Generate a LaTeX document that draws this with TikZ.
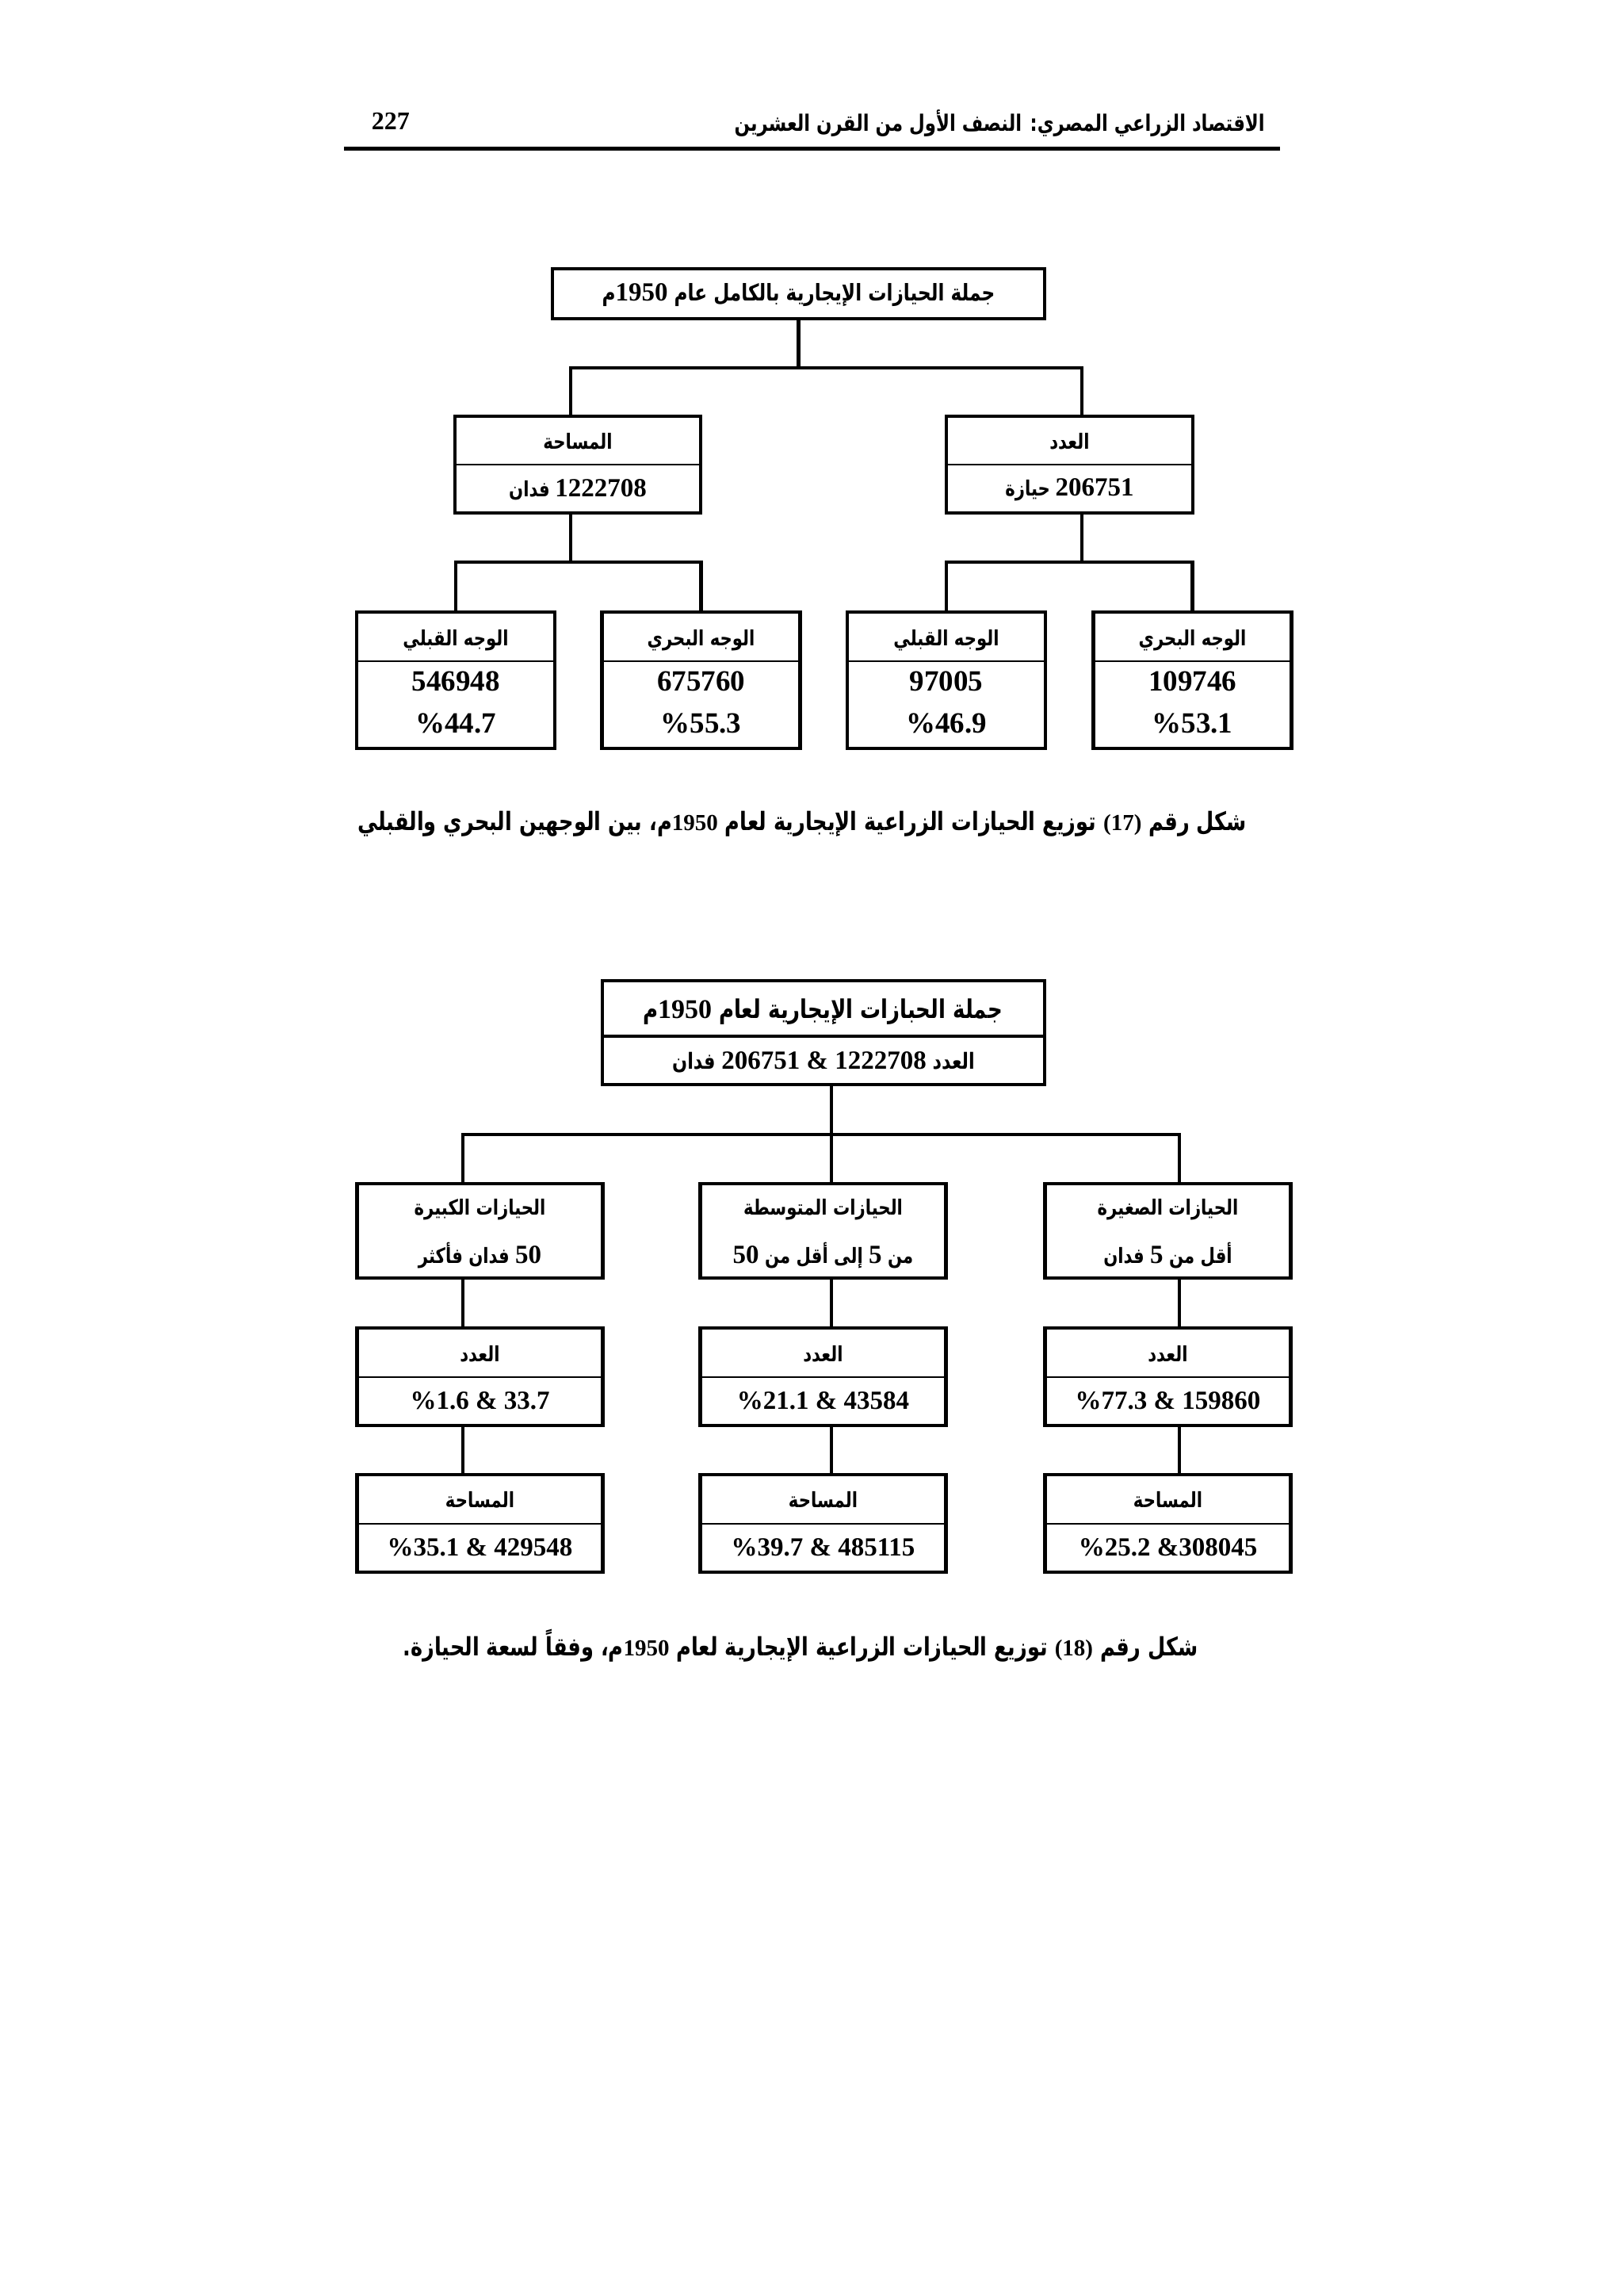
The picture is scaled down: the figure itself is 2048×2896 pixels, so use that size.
\documentclass[tikz,border=0pt]{standalone}
\usepackage{fontspec}
\setmainfont{Liberation Serif}
\newfontfamily\arfont[Script=Arabic,FakeStretch=0.8]{DejaVu Sans}
\TeXXeTstate=1
\newcommand\rl[1]{\beginR#1\endR}
\newcommand\lr[1]{\beginL#1\endL}
\newcommand\arw[1]{{\arfont\bfseries #1}}
\newcommand\numw[1]{{\rmfamily\bfseries #1}}
\newcommand\dg[2]{{\rmfamily\bfseries\fontsize{#1}{#1}\selectfont #2}}
\begin{document}
\begin{tikzpicture}[x=1pt,y=-1pt,
  box/.style={draw, line width=4.2pt, inner sep=0pt, rectangle},
  conn/.style={line width=4.2pt},
  divl/.style={line width=1.4pt},
  lab/.style={inner sep=0pt, font=\fontsize{26.5}{30}\selectfont},
  toplab/.style={inner sep=0pt, font=\fontsize{29}{33}\selectfont},
  bignum/.style={inner sep=0pt, font=\fontsize{37}{40}\selectfont\bfseries},
  midnum/.style={inner sep=0pt, font=\fontsize{33}{38}\selectfont\bfseries},
  captxt/.style={inner sep=0pt, font=\fontsize{32}{36}\selectfont},
  hdtext/.style={inner sep=0pt, font=\fontsize{28.5}{33}\selectfont},
]
\useasboundingbox (0,0) rectangle (2048,2896);
\fill[white] (0,0) rectangle (2048,2896);

% ---------- header ----------
\node[hdtext, anchor=east] (hdtxt) at (1596,156) {\rl{\arw{الاقتصاد الزراعي المصري: النصف الأول من القرن العشرين}}};
\node[inner sep=0pt, anchor=east, font=\fontsize{32}{36}\selectfont\bfseries] (pgnum) at (517,153) {227};
\draw[line width=5pt] (434,187) -- (1615,187);

% ---------- diagram 17 ----------
\node[box, minimum width=621pt, minimum height=63pt] (t1) at (1007.5,370.5) {};
\node[toplab] (t1txt) at (1007.5,372) {\rl{\arw{جملة الحيازات الإيجارية بالكامل عام }\lr{\dg{33}{1950}}\arw{م}}};

\node[box, minimum width=310pt, minimum height=122pt] (l2a) at (729,586) {};
\node[box, minimum width=311pt, minimum height=122pt] (l2b) at (1349.5,586) {};
\draw[divl] (l2a.west |- 0,586) -- (l2a.east |- 0,586);
\draw[divl] (l2b.west |- 0,586) -- (l2b.east |- 0,586);
\node[lab] (l2a1) at (729,557) {\rl{\arw{المساحة}}};
\node[lab] (l2a2) at (729,618) {\rl{\lr{\dg{33}{1222708}} \arw{فدان}}};
\node[lab] (l2b1) at (1349.5,557) {\rl{\arw{العدد}}};
\node[lab] (l2b2) at (1349.5,618) {\rl{\lr{\dg{33}{206751}} \arw{حيازة}}};

\coordinate (j1m) at (1007.5,464);
\coordinate (j1l) at (720,464);
\coordinate (j1r) at (1365,464);
\draw[conn] (t1.south -| j1m) -- (j1m);
\draw[conn] (l2a.north -| j1l) -- (j1l) -- (j1r) -- (l2b.north -| j1r);

\foreach \nm/\cx in {l3a/575, l3b/884.5, l3c/1194, l3d/1504.5}{
  \node[box, minimum width=250pt, minimum height=172pt] (\nm) at (\cx,858) {};
  \draw[divl] (\nm.west |- 0,834) -- (\nm.east |- 0,834);
}
\node[lab] (l3a1) at (575,808) {\rl{\arw{الوجه القبلي}}};
\node[bignum] (l3a2) at (575,859) {546948};
\node[bignum] (l3a3) at (575,912) {\%44.7};
\node[lab] (l3b1) at (884.5,808) {\rl{\arw{الوجه البحري}}};
\node[bignum] (l3b2) at (884.5,859) {675760};
\node[bignum] (l3b3) at (884.5,912) {\%55.3};
\node[lab] (l3c1) at (1194,808) {\rl{\arw{الوجه القبلي}}};
\node[bignum] (l3c2) at (1194,859) {97005};
\node[bignum] (l3c3) at (1194,912) {\%46.9};
\node[lab] (l3d1) at (1504.5,808) {\rl{\arw{الوجه البحري}}};
\node[bignum] (l3d2) at (1504.5,859) {109746};
\node[bignum] (l3d3) at (1504.5,912) {\%53.1};

\coordinate (j2l) at (720,709);
\coordinate (j2r) at (1365,709);
\draw[conn] (l2a.south -| j2l) -- (j2l);
\draw[conn] (l2b.south -| j2r) -- (j2r);
\draw[conn] (l3a.north) |- (j2l) -| (l3b.north);
\draw[conn] (l3c.north) |- (j2r) -| (l3d.north);

\node[captxt] (cap1) at (1012,1039) {\rl{\arw{شكل رقم }\lr{\dg{29}{(17)}}\arw{ توزيع الحيازات الزراعية الإيجارية لعام }\lr{\dg{29}{1950}}\arw{م، بين الوجهين البحري والقبلي}}};

% ---------- diagram 18 ----------
\node[box, minimum width=558pt, minimum height=131pt] (t2) at (1039,1302.5) {};
\draw[line width=4.2pt] (t2.west |- 0,1307) -- (t2.east |- 0,1307);
\node[lab, font=\fontsize{32.5}{36}\selectfont] (t2a) at (1038,1276) {\rl{\arw{جملة الحبازات الإيجارية لعام }\lr{\dg{34}{1950}}\arw{م}}};
\node[lab, font=\fontsize{28}{32}\selectfont] (t2b) at (1039,1340) {\rl{\arw{العدد }\lr{\dg{33}{206751 \& 1222708}}\arw{ فدان}}};

\foreach \nm/\cx in {m1/605.5, m2/1038.5, m3/1473.5}{
  \node[box, minimum width=310pt, minimum height=119pt] (\nm) at (\cx,1552.5) {};
  \node[box, minimum width=310pt, minimum height=123pt] (\nm n) at (\cx,1736.5) {};
  \draw[divl] (\nm n.west |- 0,1737) -- (\nm n.east |- 0,1737);
  \node[box, minimum width=310pt, minimum height=123pt] (\nm a) at (\cx,1921.5) {};
  \draw[divl] (\nm a.west |- 0,1922) -- (\nm a.east |- 0,1922);
  \node[lab] (\nm n1) at (\cx,1708) {\rl{\arw{العدد}}};
  \node[lab] (\nm a1) at (\cx,1892) {\rl{\arw{المساحة}}};
}
\node[lab] (m1t1) at (605.5,1526) {\rl{\arw{الحيازات الكبيرة}}};
\node[lab] (m1t2) at (605.5,1584) {\rl{\lr{\dg{33}{50}}\arw{ فدان فأكثر}}};
\node[lab] (m2t1) at (1038.5,1526) {\rl{\arw{الحيازات المتوسطة}}};
\node[lab] (m2t2) at (1038.5,1584) {\rl{\arw{من }\lr{\dg{33}{5}}\arw{ إلى أقل من }\lr{\dg{33}{50}}}};
\node[lab] (m3t1) at (1473.5,1526) {\rl{\arw{الحيازات الصغيرة}}};
\node[lab] (m3t2) at (1473.5,1584) {\rl{\arw{أقل من }\lr{\dg{33}{5}}\arw{ فدان}}};

\node[midnum] (m1n2) at (605.5,1767) {\%1.6 \& 33.7};
\node[midnum] (m2n2) at (1038.5,1767) {\%21.1 \& 43584};
\node[midnum] (m3n2) at (1473.5,1767) {\%77.3 \& 159860};
\node[midnum] (m1a2) at (605.5,1952) {\%35.1 \& 429548};
\node[midnum] (m2a2) at (1038.5,1952) {\%39.7 \& 485115};
\node[midnum] (m3a2) at (1473.5,1952) {\%25.2 \&308045};

\coordinate (k1) at (584,1431);
\coordinate (k2) at (1049,1431);
\coordinate (k3) at (1488,1431);
\draw[conn] (t2.south -| k2) -- (k2);
\draw[conn] (m1.north -| k1) -- (k1) -- (k3) -- (m3.north -| k3);
\draw[conn] (m2.north -| k2) -- (k2);
\draw[conn] (m1.south -| k1) -- (m1n.north -| k1);
\draw[conn] (m2.south -| k2) -- (m2n.north -| k2);
\draw[conn] (m3.south -| k3) -- (m3n.north -| k3);
\draw[conn] (m1n.south -| k1) -- (m1a.north -| k1);
\draw[conn] (m2n.south -| k2) -- (m2a.north -| k2);
\draw[conn] (m3n.south -| k3) -- (m3a.north -| k3);

\node[captxt] (cap2) at (1010,2076) {\rl{\arw{شكل رقم }\lr{\dg{29}{(18)}}\arw{ توزيع الحيازات الزراعية الإيجارية لعام }\lr{\dg{29}{1950}}\arw{م، وفقاً لسعة الحيازة.}}};
\end{tikzpicture}
\end{document}
